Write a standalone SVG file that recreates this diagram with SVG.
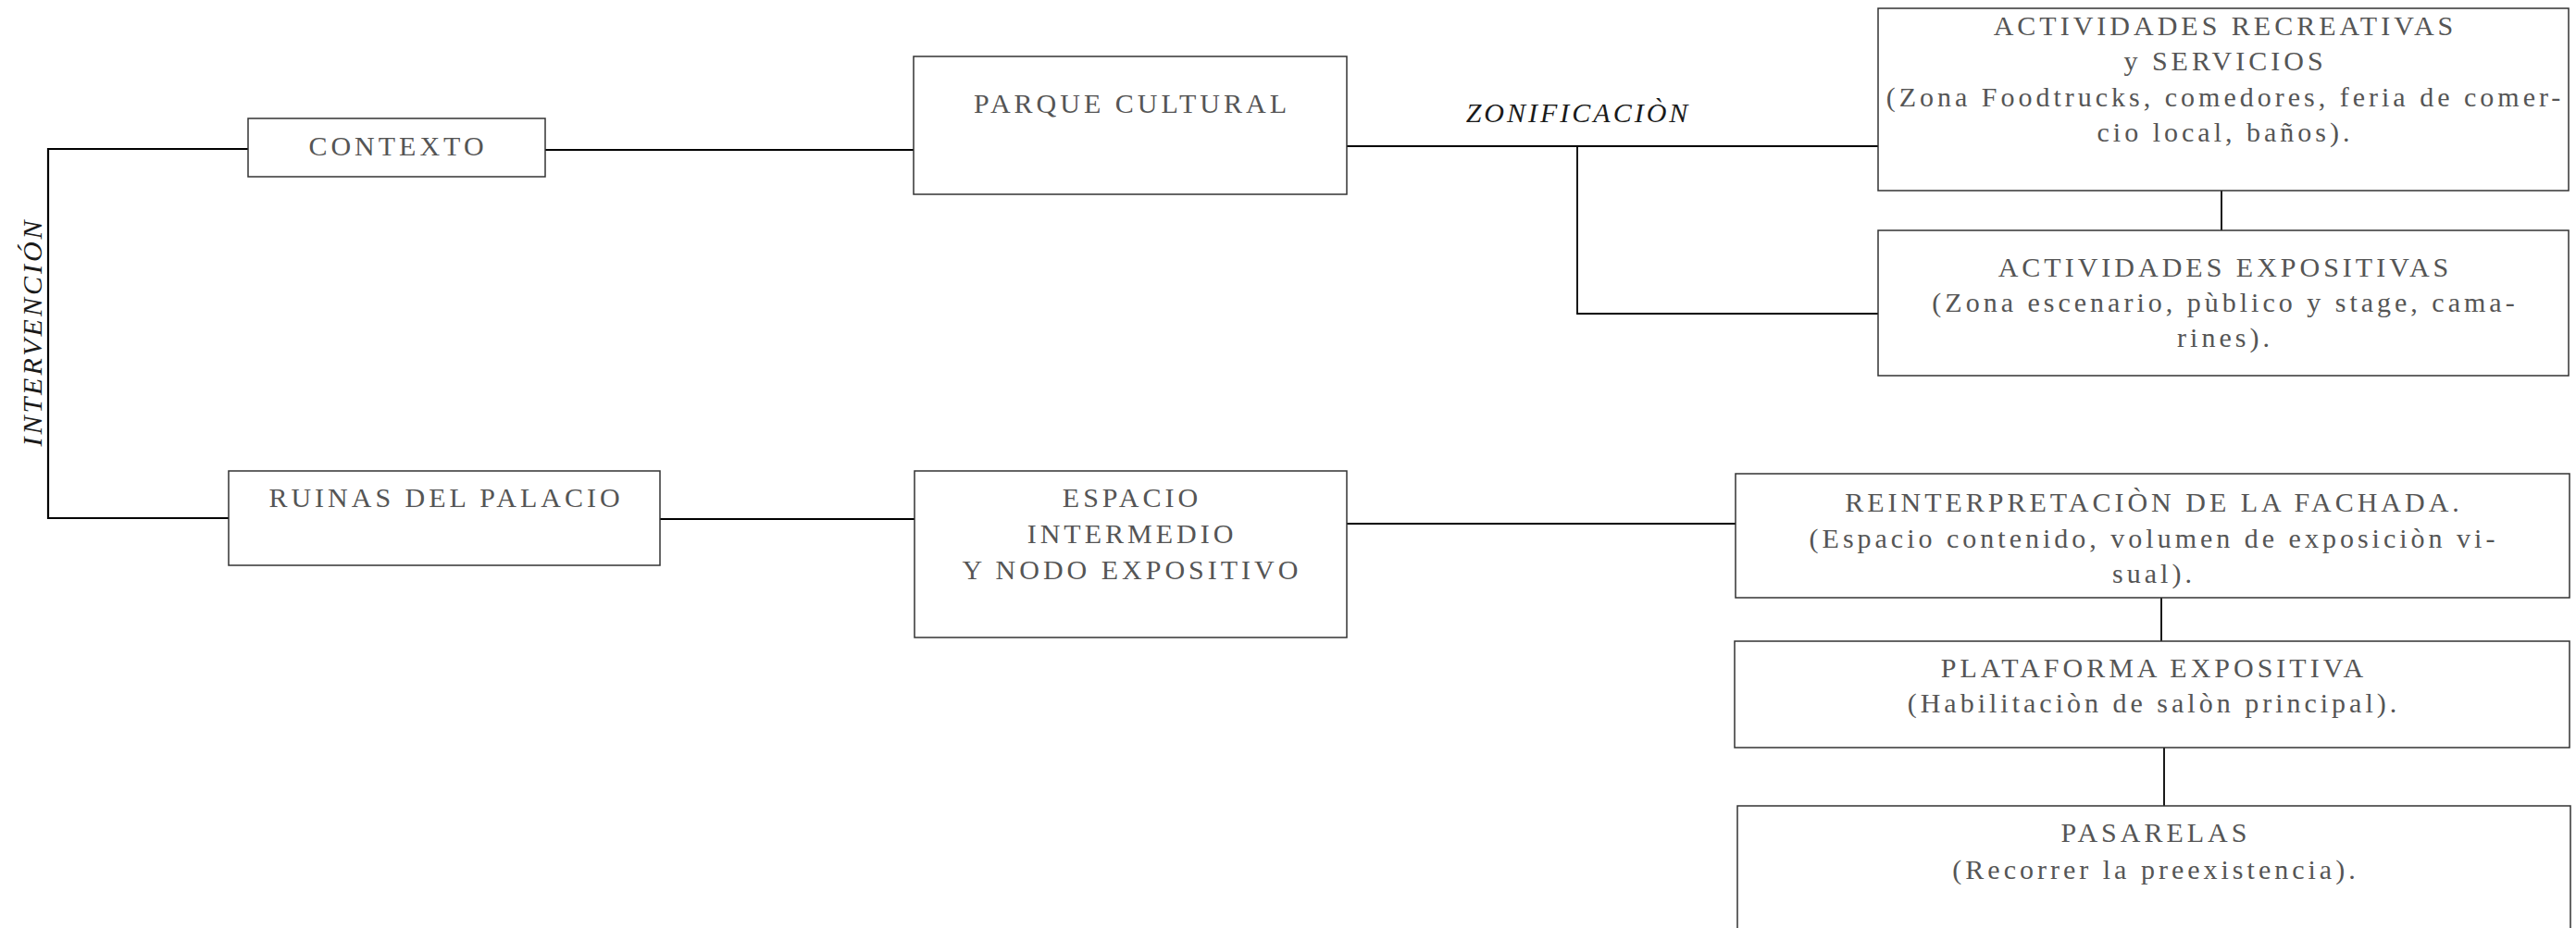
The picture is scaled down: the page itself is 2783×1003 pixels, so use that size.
<svg xmlns="http://www.w3.org/2000/svg" width="2783" height="1003" viewBox="0 0 2783 1003">
<style>
.box{fill:#fff;stroke:#333;stroke-width:1.5}
.t{font-family:"Liberation Serif","Times New Roman",serif;font-size:30px;letter-spacing:4px;fill:#555;text-anchor:middle}
.lbl{font-family:"Liberation Serif","Times New Roman",serif;font-size:30px;letter-spacing:3px;fill:#1a1a1a;font-style:italic;text-anchor:middle}
.c{fill:none;stroke:#000;stroke-width:2.2}
.c2{fill:none;stroke:#000;stroke-width:1.8}
</style>
<rect width="2783" height="1003" fill="#fff"/>
<g id="connectors">
<path class="c" d="M268,161 H52 V560 H247"/>
<path class="c" d="M589,162 H987"/>
<path class="c" d="M1455,158 H2029"/>
<path class="c2" d="M1704,158 V339 H2029"/>
<path class="c2" d="M2400,202 V249"/>
<path class="c" d="M713,561 H988"/>
<path class="c" d="M1455,566 H1875"/>
<path class="c2" d="M2335,646 V693"/>
<path class="c2" d="M2338,808 V871"/>
</g>
<g id="label-intervencion"><text class="lbl" x="45" y="359" transform="rotate(-90 45 359)">INTERVENCIÓN</text></g>
<g id="label-zonificacion"><text class="lbl" x="1705" y="132">ZONIFICACIÒN</text></g>
<g id="contexto">
<rect class="box" x="268" y="128" width="321" height="63"/>
<text class="t" x="430" y="168">CONTEXTO</text>
</g>
<g id="parque-cultural">
<rect class="box" x="987" y="61" width="468" height="149"/>
<text class="t" x="1223" y="122">PARQUE CULTURAL</text>
</g>
<g id="ruinas">
<rect class="box" x="247" y="509" width="466" height="102"/>
<text class="t" x="482" y="548">RUINAS DEL PALACIO</text>
</g>
<g id="espacio">
<rect class="box" x="988" y="509" width="467" height="180"/>
<text class="t" x="1223" y="548">ESPACIO</text>
<text class="t" x="1223" y="587">INTERMEDIO</text>
<text class="t" x="1223" y="626">Y NODO EXPOSITIVO</text>
</g>
<g id="recreativas">
<rect class="box" x="2029" y="9" width="746" height="197"/>
<text class="t" x="2404" y="38">ACTIVIDADES RECREATIVAS</text>
<text class="t" x="2404" y="76">y SERVICIOS</text>
<text class="t" x="2404" y="115">(Zona Foodtrucks, comedores, feria de comer-</text>
<text class="t" x="2404" y="153">cio local, baños).</text>
</g>
<g id="expositivas">
<rect class="box" x="2029" y="249" width="746" height="157"/>
<text class="t" x="2404" y="299">ACTIVIDADES EXPOSITIVAS</text>
<text class="t" x="2404" y="337">(Zona escenario, pùblico y stage, cama-</text>
<text class="t" x="2404" y="375">rines).</text>
</g>
<g id="reinterpretacion">
<rect class="box" x="1875" y="512" width="901" height="134"/>
<text class="t" x="2327" y="553">REINTERPRETACIÒN DE LA FACHADA.</text>
<text class="t" x="2327" y="592">(Espacio contenido, volumen de exposiciòn vi-</text>
<text class="t" x="2327" y="630">sual).</text>
</g>
<g id="plataforma">
<rect class="box" x="1874" y="693" width="902" height="115"/>
<text class="t" x="2327" y="732">PLATAFORMA EXPOSITIVA</text>
<text class="t" x="2327" y="770">(Habilitaciòn de salòn principal).</text>
</g>
<g id="pasarelas">
<rect class="box" x="1877" y="871" width="900" height="150"/>
<text class="t" x="2329" y="910">PASARELAS</text>
<text class="t" x="2329" y="950">(Recorrer la preexistencia).</text>
</g>
</svg>
